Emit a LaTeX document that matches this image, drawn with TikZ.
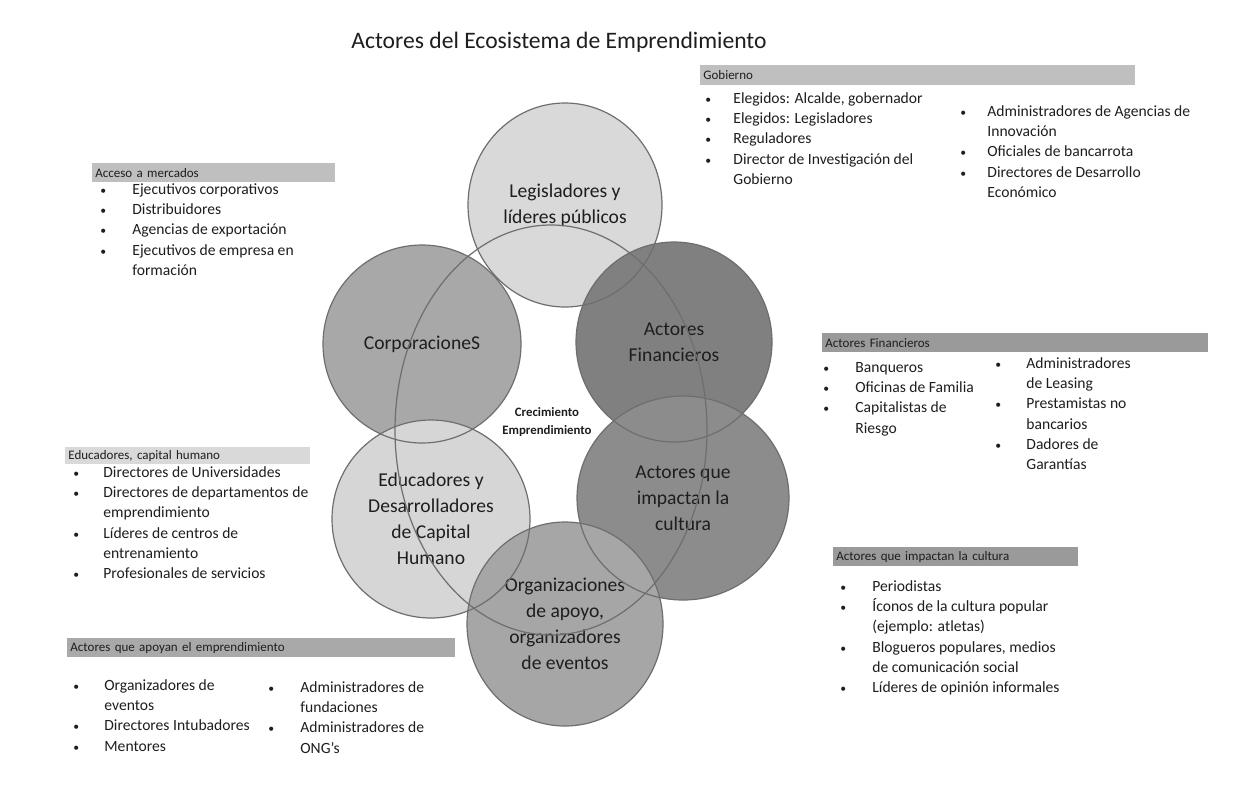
\documentclass[tikz,border=0pt]{standalone}
\usepackage{fontspec}
\setmainfont{Carlito}
\usepackage{array}
\usetikzlibrary{shapes, positioning}

\definecolor{ink}{HTML}{1E1E1E}
\definecolor{edge}{HTML}{6E6E6E}
\definecolor{gLeg}{HTML}{D9D9D9}
\definecolor{gCorp}{HTML}{A8A8A8}
\definecolor{gFin}{HTML}{808080}
\definecolor{gCult}{HTML}{8C8C8C}
\definecolor{gEdu}{HTML}{D6D6D6}
\definecolor{gOrg}{HTML}{A6A6A6}
\definecolor{barLight}{HTML}{D9D9D9}
\definecolor{barMid}{HTML}{BFBFBF}
\definecolor{barApo}{HTML}{A9A9A9}
\definecolor{barDark}{HTML}{9A9A9A}

\newcommand{\bodyfont}{\fontsize{7.8}{10.1}\selectfont}
\newcommand{\hdfont}{\fontsize{6.5}{8}\selectfont}
\newcommand{\zonefont}{\fontsize{9.8}{13}\selectfont}
\newcommand{\itm}[1]{\hspace{1pt}\scalebox{0.75}{\textbullet} & #1\\}
\newcommand{\cnt}[1]{& #1\\}
\newcommand{\blist}[2]{\begin{tabular}{@{}p{#1}@{}l@{}}#2\end{tabular}}

\begin{document}
\begin{tikzpicture}[x=0.5pt,y=-0.5pt,
	zone/.style={ellipse, inner sep=0pt, align=center, font=\zonefont, text=ink},
	ring/.style={draw=edge, line width=0.6pt},
	bar/.style={anchor=north west, inner xsep=1.5pt, inner ysep=0pt, align=left, font=\hdfont, text=ink},
	blk/.style={anchor=north west, inner sep=0pt, font=\bodyfont, text=ink}]
	\fill[white] (0,0) rectangle (1245,809);
	\useasboundingbox (0,0) rectangle (1245,809);

	\node[font=\fontsize{11.8}{14}\selectfont, text=ink] (title) at (559,42) {Actores del Ecosistema de Emprendimiento};

	% circulos
	\node[zone, fill=gLeg, minimum width=97pt, minimum height=102pt] (leg) at (565,205) {Legisladores y\\líderes públicos};
	\node[zone, fill=gCorp, minimum width=99pt, minimum height=99pt] (corp) at (422,344) {CorporacioneS};
	\node[zone, fill=gFin, minimum width=98pt, minimum height=100pt] (fin) at (674,342) {Actores\\Financieros};
	\node[zone, fill=gEdu, minimum width=99pt, minimum height=99pt] (edu) at (431,519) {Educadores y\\Desarrolladores\\de Capital\\Humano};
	\node[zone, fill=gCult, minimum width=106pt, minimum height=102pt] (cult) at (683,498) {Actores que\\impactan la\\cultura};
	\node[zone, fill=gOrg, minimum width=98pt, minimum height=102pt] (org) at (565,624) {Organizaciones\\de apoyo,\\organizadores\\de eventos};
	\foreach \n/\a/\b in {leg/48.5/51, corp/49.5/49.5, fin/49/50, edu/49.5/49.5, cult/53/51, org/49/51}
		\draw[ring] (\n.center) ellipse [x radius=\a pt, y radius=\b pt];
	\coordinate (core) at (551,430);
	\draw[ring] (core) ellipse [x radius=78pt, y radius=102.5pt];
	\node[font=\bfseries\fontsize{6.4}{9}\selectfont, align=center, text=ink] (grow) at (547,422) {Crecimiento\\Emprendimiento};

	% cabeceras
	\node[bar, fill=barMid, text width=214.5pt, minimum height=10pt] (gob) at (700,65) {Gobierno};
	\node[bar, fill=barMid, text width=118.5pt, minimum height=9.5pt] (acc) at (92,163) {Acceso a mercados};
	\node[bar, fill=barDark, text width=190pt, minimum height=9.5pt] (finb) at (822,333) {Actores Financieros};
	\node[bar, fill=barLight, text width=119.5pt, minimum height=8.5pt] (edub) at (65,447) {Educadores, capital humano};
	\node[bar, fill=barDark, text width=119.5pt, minimum height=9.5pt] (cultb) at (833,547) {Actores que impactan la cultura};
	\node[bar, fill=barApo, text width=191pt, minimum height=9.5pt] (apob) at (67,638) {Actores que apoyan el emprendimiento};

	% listas
	\node[blk] (gobA) at (703,89) {\blist{15pt}{\itm{Elegidos: Alcalde, gobernador}\itm{Elegidos: Legisladores}\itm{Reguladores}\itm{Director de Investigación del}\cnt{Gobierno}}};
	\node[blk] (gobB) at (958,102) {\blist{14.5pt}{\itm{Administradores de Agencias de}\cnt{Innovación}\itm{Oficiales de bancarrota}\itm{Directores de Desarrollo}\cnt{Económico}}};
	\node[blk] (accA) at (98,180) {\blist{17pt}{\itm{Ejecutivos corporativos}\itm{Distribuidores}\itm{Agencias de exportación}\itm{Ejecutivos de empresa en}\cnt{formación}}};
	\node[blk] (finA) at (821,358) {\blist{17pt}{\itm{Banqueros}\itm{Oficinas de Familia}\itm{Capitalistas de}\cnt{Riesgo}}};
	\node[blk] (finB) at (993,354) {\blist{16.5pt}{\itm{Administradores}\cnt{de Leasing}\itm{Prestamistas no}\cnt{bancarios}\itm{Dadores de}\cnt{Garantías}}};
	\node[blk] (eduA) at (71,463) {\blist{16pt}{\itm{Directores de Universidades}\itm{Directores de departamentos de}\cnt{emprendimiento}\itm{Líderes de centros de}\cnt{entrenamiento}\itm{Profesionales de servicios}}};
	\node[blk] (cultA) at (838,577) {\blist{17pt}{\itm{Periodistas}\itm{Íconos de la cultura popular}\cnt{(ejemplo: atletas)}\itm{Blogueros populares, medios}\cnt{de comunicación social}\itm{Líderes de opinión informales}}};
	\node[blk] (apoA) at (71,676) {\blist{16.5pt}{\itm{Organizadores de}\cnt{eventos}\itm{Directores Intubadores}\itm{Mentores}}};
	\node[blk] (apoB) at (266,678) {\blist{17pt}{\itm{Administradores de}\cnt{fundaciones}\itm{Administradores de}\cnt{ONG’s}}};
\end{tikzpicture}
\end{document}
